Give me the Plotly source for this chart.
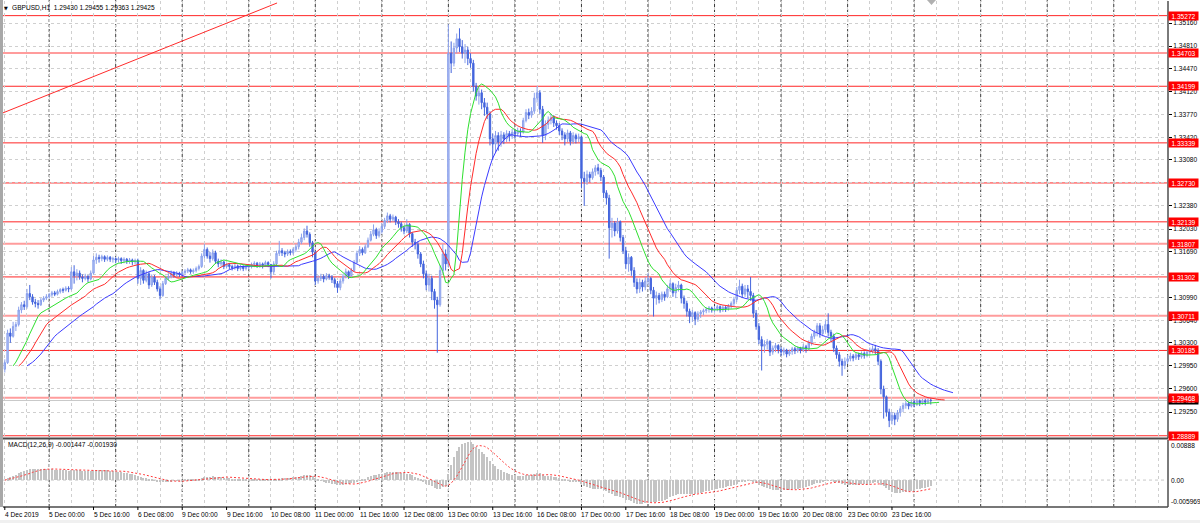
import numpy as np
import pandas as pd
import plotly.graph_objects as go

W, H = 1200, 523

# ------------------------------------------------------------------ data
header_text = "GBPUSD,H1  1.29430 1.29455 1.29363 1.29425"
macd_text = "MACD(12,26,9) -0.001447 -0.001930"

first_open = 1.2990
closes = [
    # 4 Dec (from 08:00)
    1.3000, 1.3045, 1.3040, 1.3055, 1.3058, 1.3080, 1.3088, 1.3085, 1.3105, 1.3100, 1.3092, 1.3090, 1.3088, 1.3095, 1.3098, 1.3100,
    # 5 Dec
    1.3103, 1.3106, 1.3104, 1.3108, 1.3111, 1.3110, 1.3113, 1.3112, 1.3138, 1.3132, 1.3136, 1.3130, 1.3128, 1.3131, 1.3127, 1.3136,
    1.3156, 1.3160, 1.3158, 1.3161, 1.3157, 1.3160, 1.3157, 1.3158,
    # 6 Dec
    1.3156, 1.3158, 1.3155, 1.3157, 1.3154, 1.3156, 1.3153, 1.3155, 1.3128, 1.3140, 1.3125, 1.3135, 1.3118, 1.3130, 1.3122, 1.3112,
    1.3102, 1.3120, 1.3128, 1.3131, 1.3136, 1.3133, 1.3136, 1.3134,
    # 9 Dec
    1.3137, 1.3139, 1.3141, 1.3138, 1.3140, 1.3143, 1.3146, 1.3162, 1.3172, 1.3162, 1.3158, 1.3167, 1.3154, 1.3150, 1.3153, 1.3146,
    1.3149, 1.3146, 1.3144, 1.3147, 1.3143, 1.3146, 1.3143, 1.3145,
    # 10 Dec
    1.3147, 1.3149, 1.3151, 1.3147, 1.3150, 1.3148, 1.3152, 1.3149, 1.3138, 1.3150, 1.3166, 1.3170, 1.3167, 1.3165, 1.3169, 1.3167,
    1.3172, 1.3176, 1.3183, 1.3190, 1.3200, 1.3195, 1.3182, 1.3168,
    # 11 Dec
    1.3124, 1.3128, 1.3131, 1.3127, 1.3132, 1.3130, 1.3126, 1.3120, 1.3114, 1.3124, 1.3131, 1.3138, 1.3132, 1.3140, 1.3152, 1.3166,
    1.3172, 1.3167, 1.3176, 1.3186, 1.3195, 1.3202, 1.3193, 1.3199,
    # 12 Dec
    1.3207, 1.3216, 1.3223, 1.3218, 1.3221, 1.3214, 1.3211, 1.3205, 1.3200, 1.3210, 1.3196, 1.3183, 1.3180, 1.3165, 1.3150, 1.3135,
    1.3118, 1.3128, 1.3108, 1.3095, 1.3088, 1.3140, 1.3165, 1.3150,
    # 13 Dec
    1.3470, 1.3455, 1.3478, 1.3492, 1.3480, 1.3470, 1.3475, 1.3462, 1.3455, 1.3420, 1.3405, 1.3410, 1.3395, 1.3388, 1.3378, 1.3340,
    1.3332, 1.3345, 1.3335, 1.3346, 1.3340, 1.3348, 1.3344, 1.3350,
    # 16 Dec
    1.3348, 1.3352, 1.3350, 1.3368, 1.3380, 1.3376, 1.3382, 1.3402, 1.3410, 1.3385, 1.3345, 1.3362, 1.3368, 1.3372, 1.3364, 1.3360,
    1.3352, 1.3346, 1.3340, 1.3349, 1.3336, 1.3345, 1.3340, 1.3343,
    # 17 Dec
    1.3280, 1.3275, 1.3286, 1.3281, 1.3290, 1.3296, 1.3292, 1.3282, 1.3258, 1.3250, 1.3205, 1.3212, 1.3200, 1.3214, 1.3190, 1.3170,
    1.3150, 1.3160, 1.3140, 1.3122, 1.3112, 1.3122, 1.3115, 1.3124,
    # 18 Dec
    1.3128, 1.3110, 1.3098, 1.3102, 1.3096, 1.3104, 1.3100, 1.3112, 1.3120, 1.3106, 1.3114, 1.3118, 1.3098, 1.3090, 1.3078, 1.3070,
    1.3076, 1.3066, 1.3074, 1.3077, 1.3079, 1.3081, 1.3083, 1.3080,
    # 19 Dec
    1.3082, 1.3085, 1.3080, 1.3084, 1.3082, 1.3086, 1.3090, 1.3096, 1.3110, 1.3116, 1.3104, 1.3112, 1.3108, 1.3102, 1.3075, 1.3055,
    1.3035, 1.3025, 1.3028, 1.3032, 1.3016, 1.3022, 1.3026, 1.3020,
    # 20 Dec
    1.3016, 1.3019, 1.3013, 1.3017, 1.3021, 1.3018, 1.3022, 1.3019, 1.3024, 1.3021, 1.3030, 1.3040, 1.3046, 1.3056, 1.3044, 1.3050,
    1.3058, 1.3046, 1.3040, 1.3022, 1.3012, 1.3002, 1.2996, 1.3002,
    # 23 Dec - 24 Dec 06:00
    1.3006, 1.3010, 1.3007, 1.3012, 1.3009, 1.3014, 1.3011, 1.3016, 1.3019, 1.3021, 1.3018, 1.3002, 1.2960, 1.2948, 1.2925, 1.2912,
    1.2920, 1.2914, 1.2924, 1.2930, 1.2935, 1.2938, 1.2934, 1.2940, 1.2937, 1.2942, 1.2939, 1.2942, 1.2940, 1.2943, 1.29425,
]
highs = [
    1.3005, 1.3050, 1.3052, 1.3062, 1.3062, 1.3085, 1.3092, 1.3094, 1.3112, 1.3118, 1.3104, 1.3097, 1.3095, 1.3098, 1.3101, 1.3104,
    1.3106, 1.3109, 1.3109, 1.3111, 1.3113, 1.3114, 1.3116, 1.3116, 1.3145, 1.3148, 1.3142, 1.3140, 1.3134, 1.3135, 1.3133, 1.3140,
    1.3162, 1.3166, 1.3164, 1.3164, 1.3163, 1.3163, 1.3162, 1.3161,
    1.3160, 1.3161, 1.3160, 1.3160, 1.3159, 1.3159, 1.3158, 1.3158, 1.3158, 1.3145, 1.3142, 1.3140, 1.3138, 1.3134, 1.3133, 1.3126,
    1.3116, 1.3124, 1.3132, 1.3136, 1.3140, 1.3139, 1.3139, 1.3138,
    1.3140, 1.3142, 1.3144, 1.3143, 1.3143, 1.3146, 1.3149, 1.3166, 1.3180, 1.3175, 1.3168, 1.3172, 1.3170, 1.3158, 1.3157, 1.3155,
    1.3152, 1.3151, 1.3149, 1.3150, 1.3149, 1.3149, 1.3148, 1.3148,
    1.3150, 1.3152, 1.3154, 1.3153, 1.3153, 1.3152, 1.3155, 1.3154, 1.3150, 1.3154, 1.3170, 1.3185, 1.3174, 1.3170, 1.3172, 1.3172,
    1.3175, 1.3180, 1.3188, 1.3196, 1.3204, 1.3208, 1.3198, 1.3185,
    1.3170, 1.3133, 1.3135, 1.3134, 1.3136, 1.3135, 1.3133, 1.3129, 1.3124, 1.3128, 1.3135, 1.3143, 1.3140, 1.3144, 1.3156, 1.3170,
    1.3177, 1.3175, 1.3180, 1.3190, 1.3200, 1.3210, 1.3205, 1.3204,
    1.3212, 1.3220, 1.3228, 1.3226, 1.3225, 1.3223, 1.3218, 1.3214, 1.3208, 1.3218, 1.3212, 1.3198, 1.3188, 1.3184, 1.3168, 1.3155,
    1.3140, 1.3135, 1.3132, 1.3112, 1.3100, 1.3148, 1.3180, 1.3172,
    1.3514, 1.3488, 1.3486, 1.3500, 1.3508, 1.3490, 1.3484, 1.3480, 1.3470, 1.3460, 1.3425, 1.3418, 1.3415, 1.3402, 1.3395, 1.3382,
    1.3348, 1.3352, 1.3350, 1.3352, 1.3350, 1.3353, 1.3352, 1.3355,
    1.3355, 1.3357, 1.3356, 1.3372, 1.3385, 1.3386, 1.3388, 1.3410, 1.3420, 1.3414, 1.3390, 1.3368, 1.3374, 1.3378, 1.3376, 1.3368,
    1.3364, 1.3356, 1.3350, 1.3354, 1.3352, 1.3350, 1.3348, 1.3348,
    1.3345, 1.3290, 1.3292, 1.3290, 1.3295, 1.3300, 1.3302, 1.3296, 1.3285, 1.3262, 1.3255, 1.3220, 1.3215, 1.3220, 1.3216, 1.3194,
    1.3176, 1.3166, 1.3162, 1.3145, 1.3128, 1.3128, 1.3126, 1.3130,
    1.3136, 1.3130, 1.3115, 1.3108, 1.3106, 1.3108, 1.3108, 1.3118, 1.3126, 1.3122, 1.3120, 1.3124, 1.3120, 1.3102, 1.3094, 1.3082,
    1.3080, 1.3078, 1.3078, 1.3080, 1.3082, 1.3084, 1.3086, 1.3085,
    1.3086, 1.3088, 1.3087, 1.3087, 1.3086, 1.3089, 1.3093, 1.3100, 1.3115, 1.3126, 1.3120, 1.3118, 1.3118, 1.3130, 1.3106, 1.3080,
    1.3060, 1.3040, 1.3034, 1.3036, 1.3034, 1.3026, 1.3030, 1.3028,
    1.3024, 1.3023, 1.3021, 1.3020, 1.3024, 1.3024, 1.3025, 1.3024, 1.3028, 1.3027, 1.3034, 1.3044, 1.3050, 1.3060, 1.3060, 1.3056,
    1.3064, 1.3075, 1.3050, 1.3044, 1.3026, 1.3016, 1.3006, 1.3008,
    1.3012, 1.3015, 1.3013, 1.3015, 1.3015, 1.3017, 1.3017, 1.3020, 1.3023, 1.3026, 1.3027, 1.3022, 1.3005, 1.2965, 1.2950, 1.2930,
    1.2925, 1.2924, 1.2928, 1.2934, 1.2939, 1.2942, 1.2941, 1.2944, 1.2943, 1.2945, 1.2944, 1.2945, 1.2945, 1.2946, 1.29455,
]
lows = [
    1.2985, 1.2998, 1.3030, 1.3038, 1.3048, 1.3055, 1.3075, 1.3080, 1.3082, 1.3095, 1.3088, 1.3084, 1.3082, 1.3086, 1.3092, 1.3095,
    1.3097, 1.3100, 1.3101, 1.3102, 1.3105, 1.3106, 1.3108, 1.3107, 1.3110, 1.3120, 1.3125, 1.3126, 1.3122, 1.3125, 1.3122, 1.3125,
    1.3134, 1.3150, 1.3152, 1.3154, 1.3153, 1.3154, 1.3153, 1.3152,
    1.3151, 1.3152, 1.3150, 1.3151, 1.3150, 1.3150, 1.3148, 1.3149, 1.3120, 1.3118, 1.3120, 1.3122, 1.3112, 1.3115, 1.3118, 1.3108,
    1.3096, 1.3100, 1.3118, 1.3125, 1.3128, 1.3129, 1.3130, 1.3130,
    1.3131, 1.3134, 1.3136, 1.3135, 1.3135, 1.3137, 1.3140, 1.3144, 1.3158, 1.3158, 1.3152, 1.3155, 1.3150, 1.3145, 1.3146, 1.3142,
    1.3143, 1.3142, 1.3140, 1.3141, 1.3139, 1.3140, 1.3139, 1.3140,
    1.3141, 1.3143, 1.3145, 1.3144, 1.3144, 1.3143, 1.3146, 1.3145, 1.3128, 1.3134, 1.3148, 1.3162, 1.3162, 1.3160, 1.3162, 1.3163,
    1.3164, 1.3168, 1.3172, 1.3180, 1.3186, 1.3190, 1.3176, 1.3160,
    1.3118, 1.3120, 1.3124, 1.3122, 1.3125, 1.3126, 1.3121, 1.3114, 1.3106, 1.3110, 1.3120, 1.3128, 1.3127, 1.3130, 1.3138, 1.3150,
    1.3162, 1.3163, 1.3165, 1.3174, 1.3184, 1.3192, 1.3188, 1.3190,
    1.3196, 1.3203, 1.3212, 1.3213, 1.3214, 1.3209, 1.3205, 1.3199, 1.3195, 1.3197, 1.3190, 1.3176, 1.3172, 1.3158, 1.3145, 1.3128,
    1.3110, 1.3108, 1.3095, 1.3082, 1.3015, 1.3085, 1.3135, 1.3140,
    1.3145, 1.3440, 1.3450, 1.3470, 1.3472, 1.3462, 1.3455, 1.3452, 1.3448, 1.3412, 1.3398, 1.3392, 1.3385, 1.3375, 1.3370, 1.3330,
    1.3308, 1.3320, 1.3322, 1.3328, 1.3332, 1.3335, 1.3336, 1.3340,
    1.3340, 1.3344, 1.3343, 1.3348, 1.3365, 1.3370, 1.3372, 1.3378, 1.3395, 1.3378, 1.3334, 1.3338, 1.3355, 1.3362, 1.3358, 1.3354,
    1.3346, 1.3338, 1.3330, 1.3335, 1.3330, 1.3332, 1.3333, 1.3335,
    1.3265, 1.3238, 1.3270, 1.3274, 1.3278, 1.3284, 1.3286, 1.3276, 1.3250, 1.3240, 1.3158, 1.3190, 1.3192, 1.3196, 1.3184, 1.3165,
    1.3142, 1.3138, 1.3132, 1.3115, 1.3105, 1.3106, 1.3108, 1.3110,
    1.3118, 1.3104, 1.3070, 1.3088, 1.3090, 1.3092, 1.3094, 1.3098, 1.3108, 1.3100, 1.3098, 1.3108, 1.3090, 1.3082, 1.3070, 1.3060,
    1.3062, 1.3057, 1.3062, 1.3068, 1.3072, 1.3075, 1.3076, 1.3076,
    1.3076, 1.3078, 1.3076, 1.3077, 1.3077, 1.3079, 1.3082, 1.3086, 1.3092, 1.3104, 1.3098, 1.3100, 1.3098, 1.3094, 1.3068, 1.3050,
    1.3028, 1.2988, 1.3015, 1.3020, 1.3010, 1.3012, 1.3016, 1.3014,
    1.3010, 1.3011, 1.3008, 1.3010, 1.3012, 1.3013, 1.3015, 1.3014, 1.3016, 1.3015, 1.3018, 1.3026, 1.3036, 1.3040, 1.3038, 1.3040,
    1.3046, 1.3040, 1.3032, 1.3016, 1.3006, 1.2994, 1.2980, 1.2990,
    1.2998, 1.3002, 1.3002, 1.3004, 1.3004, 1.3006, 1.3006, 1.3008, 1.3011, 1.3014, 1.3012, 1.2996, 1.2952, 1.2915, 1.2918, 1.2902,
    1.2906, 1.2905, 1.2910, 1.2918, 1.2925, 1.2930, 1.2929, 1.2932, 1.2932, 1.2934, 1.2934, 1.2936, 1.2935, 1.2937, 1.29363,
]
assert len(closes) == len(highs) == len(lows), (len(closes), len(highs), len(lows))

x_label_bars = [0, 16, 32, 48, 64, 80, 96, 112, 128, 144, 160, 176, 192, 208, 224, 240, 256, 272, 288, 304, 320]
x_labels = ["4 Dec 2019", "5 Dec 00:00", "5 Dec 16:00", "6 Dec 08:00", "9 Dec 00:00", "9 Dec 16:00",
            "10 Dec 08:00", "11 Dec 00:00", "11 Dec 16:00", "12 Dec 08:00", "13 Dec 00:00", "13 Dec 16:00",
            "16 Dec 08:00", "17 Dec 00:00", "17 Dec 16:00", "18 Dec 08:00", "19 Dec 00:00", "19 Dec 16:00",
            "20 Dec 08:00", "23 Dec 00:00", "23 Dec 16:00"]

price_ticks = [1.35160, 1.34810, 1.34470, 1.34120, 1.33770, 1.33420, 1.33080, 1.32730, 1.32380,
               1.32030, 1.31690, 1.31340, 1.30990, 1.30640, 1.30300, 1.29950, 1.29600, 1.29250]
price_tick_text = ["1.35160", "1.34810", "1.34470", "1.34120", "1.33770", "1.33420", "1.33080", "",
                   "1.32380", "1.32030", "1.31690", "", "1.30990", "1.30640", "1.30300", "1.29950",
                   "1.29600", "1.29250"]

levels = [1.35272, 1.34703, 1.34199, 1.33339, 1.32730, 1.32139, 1.31807, 1.31302, 1.30711, 1.30185, 1.29468, 1.28889]
level_text = ["1.35272", "1.34703", "1.34199", "1.33339", "1.32730", "1.32139", "1.31807", "1.31302",
              "1.30711", "1.30185", "1.29468", "1.28889"]
level_pale = [False, True, False, False, False, False, True, False, True, False, True, False]

bid_price = 1.29425
bid_text = "1.29425"

trend_bars = [-1.7, 98.2]
trend_prices = [1.33777, 1.35464]

macd_range = [-0.005969, 0.00888]
macd_axis_values = [0.00888, 0.0, -0.005969]
macd_axis_text = ["0.00888", "0.00", "-0.005969"]

# Alligator: (period, shift, colour)
alligator = [(13, 8, "#3b3bff"), (8, 5, "#ff2b2b"), (5, 3, "#2ee02e")]

# ------------------------------------------------------------------ layout calibration (pixels)
LEFT, RIGHT = 3, 1167
MAIN_TOP, MAIN_BOT = 1, 438
MACD_TOP, MACD_BOT = 440, 507
BAR0_PX, BAR_PX = 4.8, 2.7724
PRICE_REF, PRICE_REF_PX, PX_PER_PRICE = 1.35160, 23.0, 6582.0
FONT = "Liberation Sans, Arial, sans-serif"
FS = 6.6


def fx(px):
    return px / W


def fy(py):
    return 1 - py / H


def bar_at(px):
    return (px - BAR0_PX) / BAR_PX


def price_at(py):
    return PRICE_REF - (py - PRICE_REF_PX) / PX_PER_PRICE


# ------------------------------------------------------------------ derived series
n = len(closes)
bars = np.arange(n)
opens = [first_open] + closes[:-1]
median = (np.array(highs) + np.array(lows)) / 2.0


def smma(vals, period):
    out = np.empty(len(vals))
    out[0] = vals[0]
    for i in range(1, len(vals)):
        out[i] = (out[i - 1] * (period - 1) + vals[i]) / period
    return out


cs = pd.Series(closes)
macd = cs.ewm(span=12, adjust=False).mean() - cs.ewm(span=26, adjust=False).mean()
signal = macd.rolling(9, min_periods=1).mean()

# ------------------------------------------------------------------ figure
fig = go.Figure()

fig.add_trace(go.Candlestick(
    x=bars, open=opens, high=highs, low=lows, close=closes,
    increasing=dict(line=dict(color="#8aa0ec", width=1), fillcolor="#b3c3f4"),
    decreasing=dict(line=dict(color="#4465dd", width=1), fillcolor="#4465dd"),
    whiskerwidth=0, xaxis="x", yaxis="y", hoverinfo="skip", showlegend=False,
))

for period, shift, colour in alligator:
    fig.add_trace(go.Scatter(
        x=bars + shift, y=smma(median, period), mode="lines",
        line=dict(color=colour, width=1), xaxis="x", yaxis="y", hoverinfo="skip",
    ))

fig.add_trace(go.Scatter(
    x=trend_bars, y=trend_prices, mode="lines",
    line=dict(color="#ff2b2b", width=1), xaxis="x", yaxis="y", hoverinfo="skip",
))

fig.add_trace(go.Bar(
    x=bars, y=macd, width=0.38, marker=dict(color="#c4c4c4", line=dict(width=0)),
    xaxis="x2", yaxis="y2", hoverinfo="skip",
))
fig.add_trace(go.Scatter(
    x=bars, y=signal, mode="lines", line=dict(color="#ff3b3b", width=1, dash="2px,2px"),
    xaxis="x2", yaxis="y2", hoverinfo="skip",
))

grid_vals = list(range(0, 420, 8))
day_bars = list(range(16, 420, 24))

axis_common = dict(domain=[fx(LEFT), fx(RIGHT)], range=[bar_at(LEFT), bar_at(RIGHT)],
                   tickmode="array", tickvals=grid_vals, showticklabels=False, ticks="",
                   showgrid=True, gridcolor="#cfcfcf", griddash="3px,3px", gridwidth=1,
                   zeroline=False, showline=False, rangeslider=dict(visible=False))

fig.update_layout(
    width=W, height=H, margin=dict(l=0, r=0, t=0, b=0),
    paper_bgcolor="white", plot_bgcolor="white", showlegend=False, bargap=0,
    font=dict(family=FONT, size=FS, color="black"),
    xaxis=dict(anchor="y", **axis_common),
    xaxis2=dict(anchor="y2", matches="x", **axis_common),
    yaxis=dict(domain=[fy(MAIN_BOT), fy(MAIN_TOP)], range=[price_at(MAIN_BOT), price_at(MAIN_TOP)],
               side="right", anchor="x", tickmode="array", tickvals=price_ticks, ticktext=price_tick_text,
               ticks="outside", ticklen=3, tickcolor="#000", tickwidth=1, automargin=False,
               tickfont=dict(family=FONT, size=FS, color="black"),
               showgrid=True, gridcolor="#cfcfcf", griddash="3px,3px", gridwidth=1,
               zeroline=False, showline=True, linecolor="#7a7a7a", linewidth=2),
    yaxis2=dict(domain=[fy(MACD_BOT), fy(MACD_TOP)], range=macd_range, side="right", anchor="x2",
                showticklabels=False, ticks="", showgrid=False, zeroline=False, automargin=False,
                showline=True, linecolor="#7a7a7a", linewidth=2),
)

shapes = []
# dark day separators (both panels)
for b in day_bars:
    shapes.append(dict(type="line", xref="x", yref="paper", x0=b, x1=b, y0=fy(MACD_BOT), y1=1,
                       line=dict(color="#3a3a3a", width=1, dash="3px,2px"), layer="between"))
# horizontal levels
for lv, pale in zip(levels, level_pale):
    shapes.append(dict(type="line", xref="paper", yref="y", x0=fx(LEFT), x1=fx(RIGHT), y0=lv, y1=lv,
                       line=dict(color="#ff9c9c" if pale else "#ff2626", width=2 if pale else 1),
                       layer="between"))
# bid line
shapes.append(dict(type="line", xref="paper", yref="y", x0=fx(LEFT), x1=fx(RIGHT), y0=bid_price, y1=bid_price,
                   line=dict(color="#c8c8c8", width=1), layer="between"))
# MACD zero level
shapes.append(dict(type="line", xref="paper", yref="y2", x0=fx(LEFT), x1=fx(RIGHT), y0=0, y1=0,
                   line=dict(color="#c8c8c8", width=1, dash="3px,3px"), layer="between"))
# panel borders
shapes.append(dict(type="line", xref="paper", yref="paper", x0=fx(LEFT), x1=fx(RIGHT + 1),
                   y0=fy(MAIN_BOT + 0.5), y1=fy(MAIN_BOT + 0.5), line=dict(color="#4a4a4a", width=2)))
shapes.append(dict(type="line", xref="paper", yref="paper", x0=fx(LEFT), x1=fx(RIGHT + 1),
                   y0=fy(MACD_BOT), y1=fy(MACD_BOT), line=dict(color="#4a4a4a", width=1.5)))
shapes.append(dict(type="rect", xref="paper", yref="paper", x0=0, x1=fx(LEFT), y0=fy(MACD_BOT), y1=1,
                   fillcolor="#a8a8a8", line=dict(width=0)))
shapes.append(dict(type="rect", xref="paper", yref="paper", x0=0, x1=1, y0=0, y1=fy(520),
                   fillcolor="#f0f0f0", line=dict(width=0)))
# chart-shift marker at top
shapes.append(dict(type="path", xref="paper", yref="paper",
                   path=f"M {fx(927)},{fy(0)} L {fx(936)},{fy(0)} L {fx(931.5)},{fy(5)} Z",
                   fillcolor="#b0b0b0", line=dict(width=0)))
# time-axis ticks
for b in x_label_bars:
    shapes.append(dict(type="line", xref="x2", yref="paper", x0=b, x1=b, y0=fy(MACD_BOT), y1=fy(MACD_BOT + 3),
                       line=dict(color="#000", width=1)))
fig.update_layout(shapes=shapes)

ann = []
ann.append(dict(text="▼", xref="paper", yref="paper", x=fx(1.5), y=fy(8), xanchor="left", yanchor="middle",
                showarrow=False, font=dict(family="DejaVu Sans", size=5, color="black")))
ann.append(dict(text=header_text, xref="paper", yref="paper", x=fx(9.5), y=fy(8), xanchor="left",
                yanchor="middle", showarrow=False, font=dict(family=FONT, size=FS, color="black")))
ann.append(dict(text=macd_text, xref="paper", yref="paper", x=fx(5.5), y=fy(445), xanchor="left",
                yanchor="middle", showarrow=False, font=dict(family=FONT, size=FS, color="black")))
for b, t in zip(x_label_bars, x_labels):
    ann.append(dict(text=t, xref="x2", yref="paper", x=b, y=fy(514), xanchor="left", yanchor="middle",
                    xshift=-2, showarrow=False, font=dict(family=FONT, size=FS, color="black")))
for v, t, ya in zip(macd_axis_values, macd_axis_text, ["top", "middle", "bottom"]):
    ann.append(dict(text=t, xref="paper", yref="y2", x=fx(1169), y=v, xanchor="left", yanchor=ya,
                    showarrow=False, font=dict(family=FONT, size=FS, color="black")))
# bid label (under the red level labels)
ann.append(dict(text=bid_text, xref="paper", yref="y", x=fx(RIGHT + 0.5), y=bid_price, xanchor="left",
                yanchor="middle", showarrow=False, bgcolor="#000000", width=27, height=6, borderpad=1,
                align="center", font=dict(family=FONT, size=FS, color="white")))
for lv, t in zip(levels, level_text):
    ann.append(dict(text=t, xref="paper", yref="y", x=fx(RIGHT + 0.5), y=lv, xanchor="left",
                    yanchor="middle", showarrow=False, bgcolor="#ff0000", width=27, height=6, borderpad=1,
                    align="center", font=dict(family=FONT, size=FS, color="white")))
fig.update_layout(annotations=ann)

fig.write_html(
    "out.html",
    config={"displayModeBar": False},
    post_script="document.body.style.margin='0';document.body.style.padding='0';"
                "document.body.style.overflow='hidden';",
)
